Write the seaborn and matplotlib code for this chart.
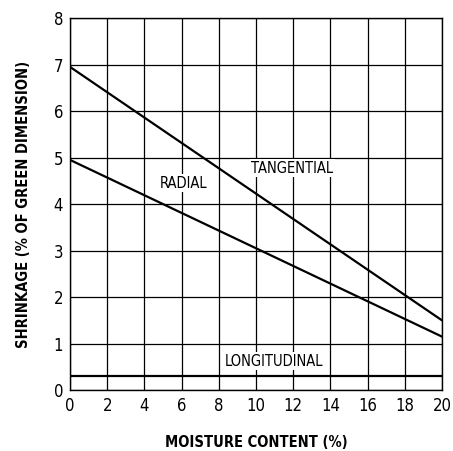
import pandas as pd
import matplotlib
matplotlib.use("Agg")
import matplotlib.pyplot as plt
import seaborn as sns

# data
moisture = [0, 20]
tangential = [6.95, 1.5]
radial = [4.95, 1.15]
longitudinal = [0.3, 0.3]

x_ticks = list(range(0, 21, 2))
y_ticks = list(range(0, 9))

sns.set_theme(style="white")
plt.rcParams['font.family'] = ['Liberation Sans Narrow', 'DejaVu Sans']
plt.rcParams['font.stretch'] = 'condensed'
plt.rcParams['text.color'] = 'black'
plt.rcParams['axes.labelcolor'] = 'black'
plt.rcParams['xtick.color'] = 'black'
plt.rcParams['ytick.color'] = 'black'

df = pd.DataFrame({
    'moisture': moisture * 3,
    'shrinkage': tangential + radial + longitudinal,
    'direction': ['TANGENTIAL'] * 2 + ['RADIAL'] * 2 + ['LONGITUDINAL'] * 2,
})

fig = plt.figure(figsize=(4.53, 4.51), dpi=100)
ax = fig.add_axes([0.1545, 0.135, 0.8212, 0.825])

sns.lineplot(data=df, x='moisture', y='shrinkage', units='direction',
             estimator=None, color='black', linewidth=1.6, ax=ax, zorder=3)

ax.set_xlim(0, 20)
ax.set_ylim(0, 8)
ax.set_xticks(x_ticks)
ax.set_yticks(y_ticks)
ax.grid(True, color='black', linewidth=0.9)
ax.tick_params(axis='both', length=0, labelsize=12, pad=5)
for s in ax.spines.values():
    s.set_color('black')
    s.set_linewidth(1.0)

ax.set_xlabel('MOISTURE CONTENT (%)', fontsize=10.5, fontweight='bold', labelpad=14)
ax.set_ylabel('SHRINKAGE (% OF GREEN DIMENSION)', fontsize=10.5, fontweight='bold', labelpad=16)

box = dict(facecolor='white', edgecolor='none', pad=1)
ax.text(9.75, 4.77, 'TANGENTIAL', fontsize=10.5, va='center', ha='left', bbox=box, zorder=4)
ax.text(4.85, 4.45, 'RADIAL', fontsize=10.5, va='center', ha='left', bbox=box, zorder=4)
ax.text(8.3, 0.62, 'LONGITUDINAL', fontsize=10.5, va='center', ha='left', bbox=box, zorder=4)

fig.savefig('out.png', dpi=100)
